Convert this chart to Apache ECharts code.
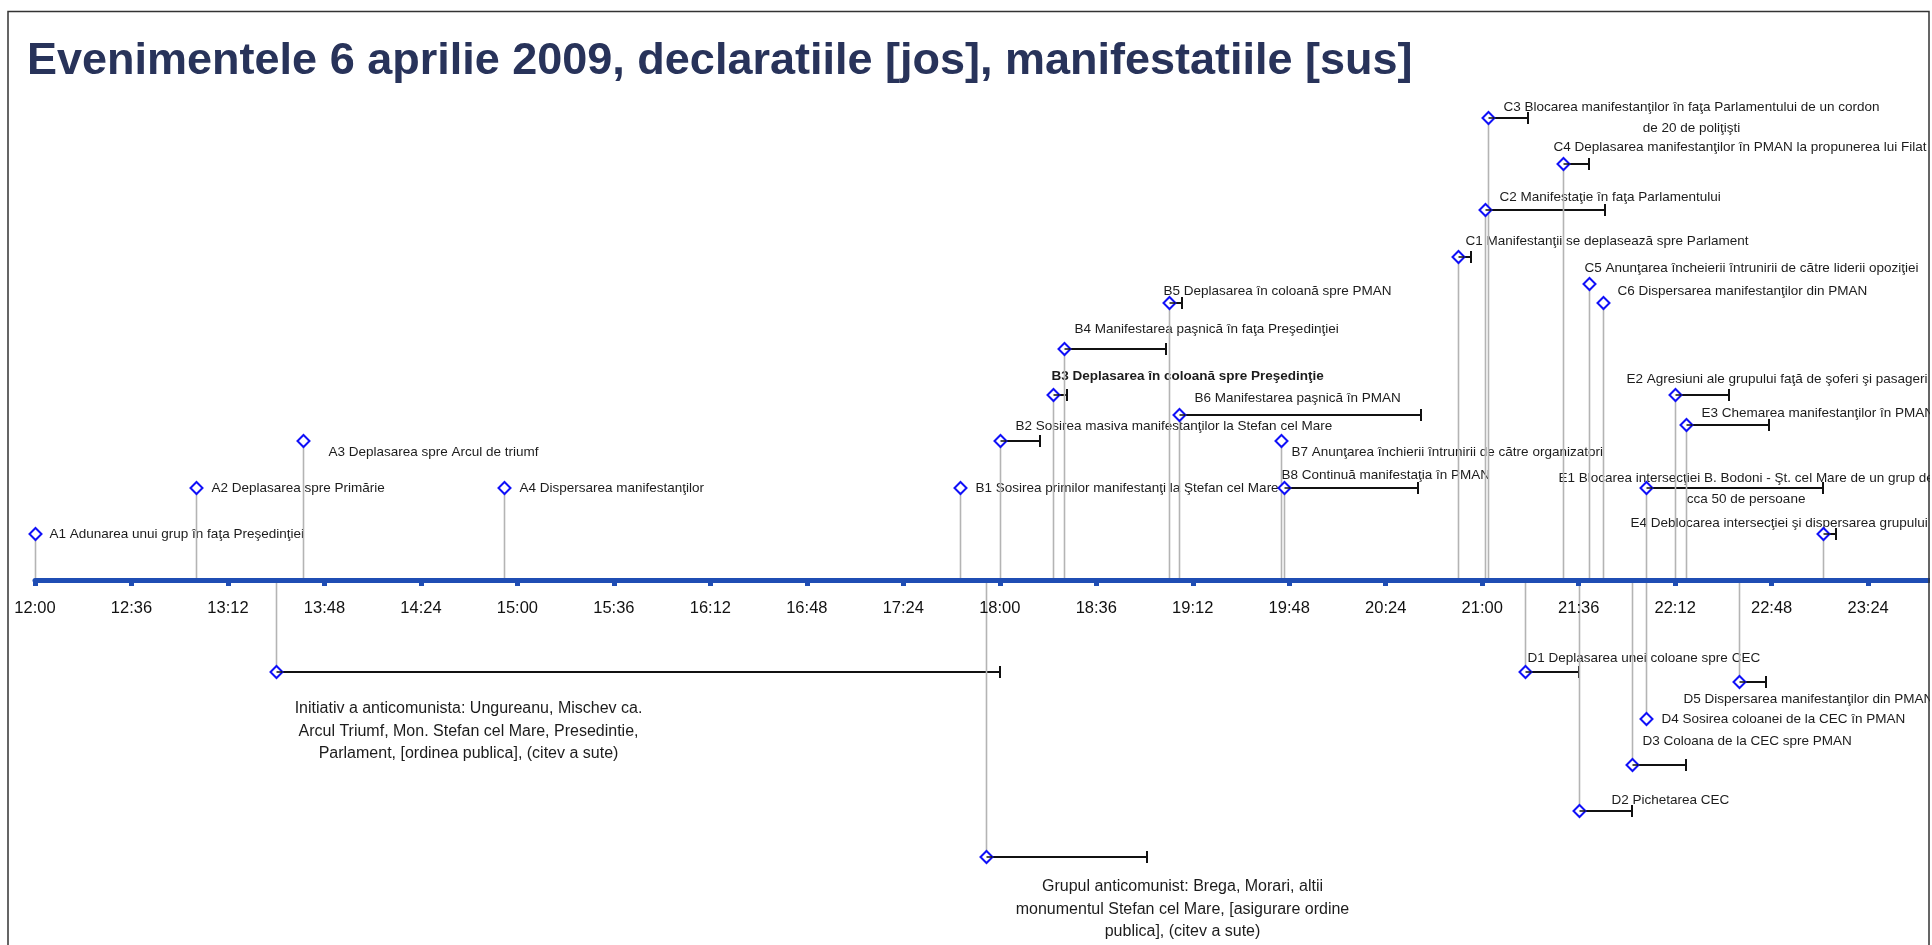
<!DOCTYPE html>
<html>
<head>
<meta charset="utf-8">
<title>Evenimentele 6 aprilie 2009</title>
<script src="https://cdn.jsdelivr.net/npm/echarts@6/dist/echarts.min.js"></script>
<style>
  html, body { margin: 0; padding: 0; background: #fff; }
  #chart { width: 1932px; height: 945px; }
</style>
</head>
<body>
<div id="chart"></div>
<script>
  // axis: minutes counted from 12:00, a tick every 36 minutes
  const AXIS_START = '12:00'
  const AXIS_END = '24:00'
  const TICK_STEP = 36

  // manifestatii (above the axis): start, end (null = point event), height level
  const upIds = ['A1', 'A2', 'A3', 'A4', 'B1', 'B2', 'B3', 'B4', 'B5', 'B6', 'B7', 'B8',
    'C1', 'C2', 'C3', 'C4', 'C5', 'C6', 'E1', 'E2', 'E3', 'E4']
  const upLabels = [
    'A1 Adunarea unui grup în faţa Preşedinţiei',
    'A2 Deplasarea spre Primărie',
    'A3 Deplasarea spre Arcul de triumf',
    'A4 Dispersarea manifestanţilor',
    'B1 Sosirea primilor manifestanţi la Ştefan cel Mare',
    'B2 Sosirea masiva manifestanţilor la Stefan cel Mare',
    'B3 Deplasarea în coloană spre Preşedinţie',
    'B4 Manifestarea paşnică în faţa Preşedinţiei',
    'B5 Deplasarea în coloană spre PMAN',
    'B6 Manifestarea paşnică în PMAN',
    'B7 Anunţarea închierii întrunirii de către organizatori',
    'B8 Continuă manifestaţia în PMAN',
    'C1 Manifestanţii se deplasează spre Parlament',
    'C2 Manifestaţie în faţa Parlamentului',
    'C3 Blocarea manifestanţilor în faţa Parlamentului de un cordon\nde 20 de poliţişti',
    'C4 Deplasarea manifestanţilor în PMAN la propunerea lui Filat',
    'C5 Anunţarea încheierii întrunirii de către liderii opoziţiei',
    'C6 Dispersarea manifestanţilor din PMAN',
    'E1 Blocarea intersecţiei B. Bodoni - Şt. cel Mare de un grup de\ncca 50 de persoane',
    'E2 Agresiuni ale grupului faţă de şoferi şi pasageri',
    'E3 Chemarea manifestanţilor în PMAN',
    'E4 Deblocarea intersecţiei şi dispersarea grupului'
  ]
  const upStart = ['12:00', '13:00', '13:40', '14:55', '17:45', '18:00', '18:20', '18:24', '19:03', '19:07', '19:45', '19:46',
    '20:51', '21:01', '21:02', '21:30', '21:40', '21:45', '22:01', '22:12', '22:16', '23:07']
  const upEnd = [null, null, null, null, null, '18:15', '18:25', '19:02', '19:08', '20:37', null, '20:36',
    '20:56', '21:46', '21:17', '21:40', null, null, '23:07', '22:32', '22:47', '23:12']
  const upLevel = [1, 2, 3, 2, 2, 3, 4, 5, 6, 3.57, 3, 2,
    7, 8, 10, 9, 6.4, 6, 2, 4, 3.35, 1]

  // declaratii (below the axis)
  const downIds = ['G1', 'G2', 'D1', 'D2', 'D3', 'D4', 'D5']
  const downLabels = [
    'Initiativ a anticomunista: Ungureanu, Mischev ca.\nArcul Triumf, Mon. Stefan cel Mare, Presedintie,\nParlament, [ordinea publica], (citev a sute)',
    'Grupul anticomunist: Brega, Morari, altii\nmonumentul Stefan cel Mare, [asigurare ordine\npublica], (citev a sute)',
    'D1 Deplasarea unei coloane spre CEC',
    'D2 Pichetarea CEC',
    'D3 Coloana de la CEC spre PMAN',
    'D4 Sosirea coloanei de la CEC în PMAN',
    'D5 Dispersarea manifestanţilor din PMAN'
  ]
  const downStart = ['13:30', '17:55', '21:16', '21:36', '21:56', '22:01', '22:36']
  const downEnd = ['18:00', '18:55', '21:36', '21:56', '22:16', null, '22:46']
  const downLevel = [-2, -6, -2, -5, -4, -3, -2.2]

  // label placement: [dx, dy] from the marker to the left edge / middle of the first line
  const LABEL_LAYOUT = {
    A1: [14, 0], A2: [15, 0], A3: [25, 11], A4: [15, 0],
    B1: [15, 0], B2: [15, -15], B3: [-2, -19], B4: [10, -20], B5: [-6, -12], B6: [15, -17], B7: [10, 11], B8: [-3, -13],
    C1: [7, -16], C2: [14, -13], C3: [15, -11], C4: [-10, -17], C5: [-5, -16], C6: [14, -12],
    E1: [-88, -10], E2: [-49, -16], E3: [15, -12], E4: [-193, -11],
    D1: [2, -14], D2: [32, -11], D3: [10, -24], D4: [15, 0], D5: [-56, 17],
    G1: [192, 37, 'center'], G2: [196, 30, 'center']
  }
  const BOLD_LABELS = ['B3']

  const FONT_FAMILY = '"Liberation Sans", Arial, sans-serif'
  const EVENT_FONT = '13.5px ' + FONT_FAMILY
  const GROUP_FONT = '16px ' + FONT_FAMILY

  function toMin(t) {
    if (t == null) return null
    const [h, m] = t.split(':').map(Number)
    return (h - 12) * 60 + m
  }
  function fmtTime(v) {
    const t = 12 * 60 + v
    const h = Math.floor(t / 60)
    const m = t % 60
    return h + ':' + (m < 10 ? '0' : '') + m
  }

  const events = []
  upIds.forEach((id, i) => events.push({id, label: upLabels[i], start: toMin(upStart[i]), end: toMin(upEnd[i]), level: upLevel[i]}))
  downIds.forEach((id, i) => events.push({id, label: downLabels[i], start: toMin(downStart[i]), end: toMin(downEnd[i]), level: downLevel[i]}))

  const measureCtx = document.createElement('canvas').getContext('2d')
  function textWidth(s, font) {
    measureCtx.font = font
    return measureCtx.measureText(s).width
  }

  const R = 6
  function renderPart(part) {
    return function (params, api) {
      const ev = events[api.value(3)]
      const p = api.coord([ev.start, ev.level])
      const base = api.coord([ev.start, 0])
      const up = ev.level > 0
      const x = Math.round(p[0]) + 0.5
      const y = Math.round(p[1])
      const children = []
      if (part === 'label') {
        const lay = LABEL_LAYOUT[ev.id]
        const isGroup = ev.id[0] === 'G'
        const bold = BOLD_LABELS.indexOf(ev.id) >= 0
        const font = (bold ? 'bold ' : '') + (isGroup ? GROUP_FONT : EVENT_FONT)
        const lines = ev.label.split('\n')
        const lh = isGroup ? 22.5 : 21.5
        if (lines.length > 1 || lay[2] === 'center') {
          const w = Math.max.apply(null, lines.map(l => textWidth(l, font)))
          const cx = lay[2] === 'center' ? x + lay[0] : x + lay[0] + w / 2
          lines.forEach((l, k) => children.push({
            type: 'text', x: cx, y: y + lay[1] + k * lh,
            style: {text: l, font: font, fill: '#1c1c1c', align: 'center', verticalAlign: 'middle'}
          }))
        } else {
          children.push({
            type: 'text', x: x + lay[0], y: y + lay[1],
            style: {text: lines[0], font: font, fill: '#1c1c1c', align: 'left', verticalAlign: 'middle'}
          })
        }
      } else if (part === 'bar') {
        if (ev.end != null) {
          const e = api.coord([ev.end, ev.level])
          const ex = Math.round(e[0])
          children.push({type: 'line', shape: {x1: x, y1: y, x2: ex, y2: y}, style: {stroke: '#111', lineWidth: 2}})
          children.push({type: 'line', shape: {x1: ex, y1: y - 6, x2: ex, y2: y + 6}, style: {stroke: '#111', lineWidth: 2}})
        }
      } else if (part === 'stem') {
        children.push({
          type: 'line',
          shape: {x1: x, y1: base[1], x2: x, y2: y + (up ? R : -R)},
          style: {stroke: '#b4b4b4', lineWidth: 1.6}
        })
      } else {
        children.push({
          type: 'polygon',
          shape: {points: [[x, y - R], [x + R, y], [x, y + R], [x - R, y]]},
          style: {fill: '#fff', stroke: '#1010f8', lineWidth: 2}
        })
        if (ev.end != null) {
          children.push({type: 'line', shape: {x1: x, y1: y, x2: x + R, y2: y}, style: {stroke: '#111', lineWidth: 1.5}})
        }
      }
      return {type: 'group', children}
    }
  }

  const seriesData = events.map((ev, i) => [ev.start, ev.end == null ? ev.start : ev.end, ev.level, i])
  const parts = ['label', 'bar', 'stem', 'marker']

  const chart = echarts.init(document.getElementById('chart'))
  chart.setOption({
    animation: false,
    backgroundColor: '#fff',
    // the grid covers the upper half only; the axis sits on its bottom edge and
    // declarations (negative levels) are drawn below it on the same scale
    grid: {left: 35, right: -32.6, top: 94.9, bottom: 365, outerBoundsMode: 'none', containLabel: false},
    xAxis: {
      type: 'value',
      min: toMin(AXIS_START),
      max: toMin(AXIS_END),
      interval: TICK_STEP,
      z: 5,
      axisLine: {lineStyle: {color: '#1f4db4', width: 5}},
      axisTick: {show: true, length: 6, lineStyle: {color: '#1f4db4', width: 5}},
      axisLabel: {
        formatter: fmtTime,
        fontSize: 16.5,
        fontFamily: FONT_FAMILY,
        color: '#111',
        margin: 20
      },
      splitLine: {show: false}
    },
    yAxis: {
      type: 'value',
      min: 0,
      max: 10.5,
      axisLine: {show: false},
      axisTick: {show: false},
      axisLabel: {show: false},
      splitLine: {show: false}
    },
    series: parts.map((part, k) => ({
      type: 'custom',
      name: part,
      z: 1 + k,
      silent: true,
      clip: false,
      renderItem: renderPart(part),
      encode: {x: [0, 1], y: 2},
      data: seriesData
    })),
    graphic: [
      {
        type: 'text', x: 27, y: 62, z: 100,
        style: {
          text: 'Evenimentele 6 aprilie 2009, declaratiile [jos], manifestatiile [sus]',
          font: 'bold 45px ' + FONT_FAMILY,
          fill: '#28335a',
          verticalAlign: 'middle'
        }
      },
      {type: 'rect', z: 99, shape: {x: 1930, y: 0, width: 10, height: 945}, style: {fill: '#fff'}},
      {type: 'rect', z: 100, shape: {x: 8, y: 11.5, width: 1921, height: 1000}, style: {fill: 'transparent', stroke: '#333', lineWidth: 1.5}}
    ]
  })
</script>
</body>
</html>
